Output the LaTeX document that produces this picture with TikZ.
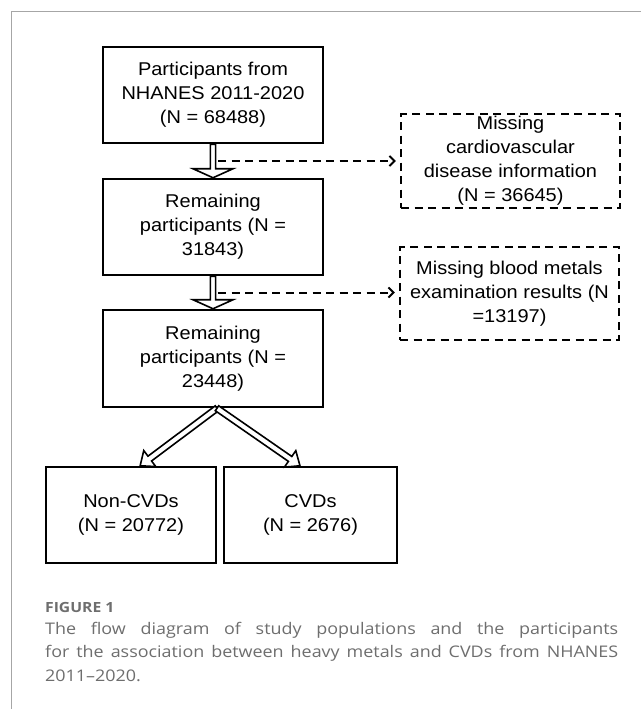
\documentclass[tikz,border=0pt]{standalone}
\usepackage{fontspec}
\setmainfont{Liberation Sans}[FakeStretch=1.08]
\newfontfamily\capfont{Open Sans}[FakeStretch=1.12]
\usetikzlibrary{arrows.meta,calc}
\definecolor{framegray}{HTML}{A6A6A6}
\definecolor{capgray}{HTML}{6E6E6E}
\newcommand{\hollowarrow}[5]{%
  \coordinate (hbA) at ($(#2)!#5!(#1)$);
  \draw[hollowstyle] ($(#1)!#3!90:(#2)$) -- ($(hbA)!#3!90:(#2)$) -- ($(hbA)!#4!90:(#2)$) -- (#2)
     -- ($(hbA)!#4!-90:(#2)$) -- ($(hbA)!#3!-90:(#2)$) -- ($(#1)!#3!-90:(#2)$) -- cycle;}
\begin{document}
\begin{tikzpicture}[x=1pt,y=-1pt,
  boxstyle/.style={draw, line width=2.5pt, align=center, inner sep=0pt,
    font=\fontsize{18.5}{24}\selectfont},
  dashbox/.style={boxstyle, line width=2.3pt, dash pattern=on 8pt off 5.5pt},
  hollowstyle/.style={draw, fill=white, line width=1.6pt, line join=miter},
  dasharrow/.style={line width=2pt, dash pattern=on 8pt off 5.5pt,
    -{Straight Barb[length=5pt,width=10pt,line width=2pt]}, shorten >=4pt}]
\useasboundingbox (0,0) rectangle (641,709);
\fill[white] (0,0) rectangle (641,709);
\draw[framegray, line width=1pt] (641,12) -- (11,12) -- (11,709);

\node[boxstyle, minimum width=220pt, minimum height=96pt] (b1) at (213,95)
  {Participants from\\NHANES 2011-2020\\(N = 68488)};
\node[boxstyle, minimum width=220pt, minimum height=96pt] (b2) at (213,227)
  {Remaining\\participants (N =\\31843)};
\node[boxstyle, minimum width=220pt, minimum height=97pt] (b3) at (213,358.5)
  {Remaining\\participants (N =\\23448)};
\node[boxstyle, minimum width=170pt, minimum height=96pt] (b4) at (131,515)
  {Non-CVDs\\(N = 20772)};
\node[boxstyle, minimum width=173pt, minimum height=96pt] (b5) at (310.5,515)
  {CVDs\\(N = 2676)};
\node[dashbox, minimum width=219pt, minimum height=94pt] (mA) at (510.5,161)
  {Missing\\cardiovascular\\disease information\\(N = 36645)};
\node[dashbox, minimum width=219pt, minimum height=93pt] (mB) at (509.5,293.5)
  {Missing blood metals\\examination results (N\\=13197)};

\hollowarrow{b1.south}{b2.north}{2.6pt}{20pt}{9pt}
\hollowarrow{b2.south}{b3.north}{2.6pt}{20pt}{9pt}

\coordinate (apex) at ($(b3.south)+(4,0)$);
\coordinate (t4) at ($(b4.north west)!0.553!(b4.north east)$);
\coordinate (t5) at ($(b5.north west)!0.44!(b5.north east)$);
\hollowarrow{apex}{t4}{3pt}{10pt}{12pt}
\hollowarrow{apex}{t5}{3pt}{10pt}{12pt}

\coordinate (d1) at ($($(b1.south)!0.5!(b2.north)$)+(5,0)$);
\coordinate (d2) at ($($(b2.south)!0.5!(b3.north)$)+(5,0)$);
\draw[dasharrow] (d1) -- (mA.west);
\draw[dasharrow] (d2) -- (d2 -| mB.west);

\node[anchor=base west, inner sep=0pt, font=\capfont\bfseries\fontsize{14}{16}\selectfont,
  text=capgray] (fig) at (45,612) {FIGURE 1};
\node[anchor=north west, inner sep=0pt, text width=573pt, align=justify,
  font=\capfont\fontsize{16}{23.5}\selectfont, text=capgray] (cap) at (45,622)
  {The flow diagram of study populations and the participants\linebreak
   for the association between heavy metals and CVDs from NHANES\linebreak
   2011–2020.};
\end{tikzpicture}
\end{document}
